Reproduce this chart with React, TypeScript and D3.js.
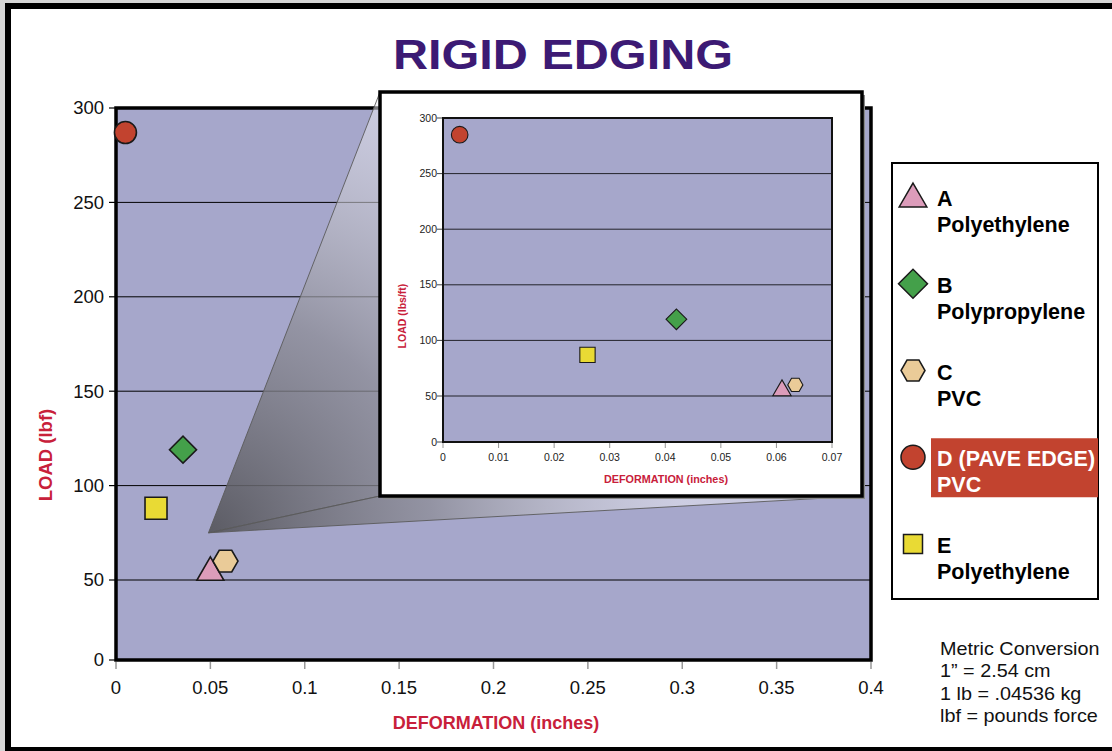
import React from 'react';
import * as d3 from 'd3';

// materials tested, in legend order
const materialKeys = ['A', 'B', 'C', 'D', 'E'];
const materialTitles = ['A', 'B', 'C', 'D (PAVE EDGE)', 'E'];
const materialNames = ['Polyethylene', 'Polypropylene', 'PVC', 'PVC', 'Polyethylene'];
const materialColors = ['#dc9cba', '#44a04a', '#eacb98', '#c2432f', '#e9da34'];

// big chart (lbf vs inches)
const mainDeformation = [0.05, 0.0355, 0.058, 0.005, 0.0212];
const mainLoad = [54, 119, 60, 287, 88];

// inset chart (lbs/ft vs inches)
const insetDeformation = [0.061, 0.042, 0.0634, 0.003, 0.026];
const insetLoad = [55, 119, 60, 285, 87];

const loadTicks = [0, 50, 100, 150, 200, 250, 300];
const mainDefTicks = [0, 0.05, 0.1, 0.15, 0.2, 0.25, 0.3, 0.35, 0.4];
const insetDefTicks = [0, 0.01, 0.02, 0.03, 0.04, 0.05, 0.06, 0.07];

const metricNotes = ['Metric Conversion', '1\u201d = 2.54 cm', '1 lb = .04536 kg', 'lbf = pounds force'];

const FONT = '"Liberation Sans", Arial, Helvetica, sans-serif';
const RED_LABEL = '#c8203a';

const fmt = (d: number) => String(+d.toFixed(2));

// marker shapes, sized per context
type Sizes = { tri: number; dia: number; hex: number; circ: number; sq: number };
const mainSizes: Sizes = { tri: 316, dia: 365, hex: 12.5, circ: 380, sq: 484 };
const insetSizes: Sizes = { tri: 145, dia: 214, hex: 7.6, circ: 216, sq: 234 };
const legendSizes: Sizes = { tri: 332, dia: 420, hex: 12, circ: 452, sq: 361 };

function markerPath(key: string, s: Sizes): string {
  if (key === 'A') return d3.symbol(d3.symbolTriangle, s.tri)() as string;
  if (key === 'B') return d3.symbol(d3.symbolSquare, s.dia)() as string;
  if (key === 'C') {
    const pts: [number, number][] = d3.range(6).map(i => {
      const a = (Math.PI / 3) * i;
      return [s.hex * Math.cos(a), s.hex * Math.sin(a)];
    });
    return (d3.line()(pts) as string) + 'Z';
  }
  if (key === 'D') return d3.symbol(d3.symbolCircle, s.circ)() as string;
  return d3.symbol(d3.symbolSquare, s.sq)() as string;
}

function Marker({ k, i, x, y, s, sw }: { k: string; i: number; x: number; y: number; s: Sizes; sw: number }) {
  const rot = k === 'B' ? ' rotate(45)' : '';
  return (
    <path
      d={markerPath(k, s)}
      transform={`translate(${x},${y})${rot}`}
      fill={materialColors[i]}
      stroke="#1a1a1a"
      strokeWidth={sw}
    />
  );
}

export default function App() {
  const W = 1112, H = 751;

  const mx = d3.scaleLinear().domain([0, 0.4]).range([116, 871]);
  const my = d3.scaleLinear().domain([0, 50, 300]).range([660, 580, 108]);

  const ix = d3.scaleLinear().domain([0, 0.07]).range([443, 832]);
  const iy = d3.scaleLinear().domain([0, 50, 300]).range([442, 396, 118]);

  // inset frame
  const box = { x: 380, y: 92, w: 482, h: 404 };
  const apex: [number, number] = [mx(0.049), my(75)];
  const tl: [number, number] = [box.x, box.y];
  const bl: [number, number] = [box.x, box.y + box.h];
  const br: [number, number] = [box.x + box.w, box.y + box.h];
  const poly = d3.line();

  const legendY = d3.scalePoint<string>().domain(materialKeys).range([197, 544]);

  return (
    <svg width={W} height={H} style={{ position: 'absolute', left: 0, top: 0, display: 'block' }} fontFamily={FONT}>
      <defs>
        <radialGradient id="zoomShade" gradientUnits="userSpaceOnUse" cx={apex[0]} cy={apex[1]} r={560}>
          <stop offset="0" stopColor="#55555b" stopOpacity={0.92} />
          <stop offset="0.4" stopColor="#8d8d96" stopOpacity={0.75} />
          <stop offset="0.85" stopColor="#f4f4fa" stopOpacity={0.5} />
          <stop offset="1" stopColor="#f4f4fa" stopOpacity={0.45} />
        </radialGradient>
      </defs>

      <rect x={0} y={0} width={W} height={H} fill="#d6d6d6" />
      <rect x={8} y={6} width={1120} height={744} fill="#fff" stroke="#000" strokeWidth={6} />

      <text x={563} y={69} textAnchor="middle" fontSize={43} fontWeight="bold" fill="#3c1a74"
        textLength={340} lengthAdjust="spacingAndGlyphs">RIGID EDGING</text>

      {/* main plot */}
      <rect x={mx(0)} y={my(300)} width={mx(0.4) - mx(0)} height={my(0) - my(300)} fill="#a6a7cb" />
      {loadTicks.filter(t => t > 0 && t < 300).map(t => (
        <line key={'g' + t} x1={mx(0)} x2={mx(0.4)} y1={my(t)} y2={my(t)} stroke="#000" strokeWidth={1} />
      ))}
      <rect x={mx(0)} y={my(300)} width={mx(0.4) - mx(0)} height={my(0) - my(300)} fill="none" stroke="#000" strokeWidth={3.5} />
      {loadTicks.map(t => (
        <g key={'yt' + t}>
          <line x1={mx(0) - 7} x2={mx(0)} y1={my(t)} y2={my(t)} stroke="#000" strokeWidth={1.2} />
          <text x={104} y={my(t)} dy="0.35em" textAnchor="end" fontSize={18.5} fill="#111">{t}</text>
        </g>
      ))}
      {mainDefTicks.map(t => (
        <g key={'xt' + t}>
          <line x1={mx(t)} x2={mx(t)} y1={my(0) + 2} y2={my(0) + 9} stroke="#999" strokeWidth={1.5} />
          <text x={mx(t)} y={694} textAnchor="middle" fontSize={18.5} fill="#111">{fmt(t)}</text>
        </g>
      ))}
      <text x={496} y={729} textAnchor="middle" fontSize={18} fontWeight="bold" fill={RED_LABEL}>DEFORMATION (inches)</text>
      <text transform="translate(46,455) rotate(-90)" textAnchor="middle" dy="0.35em" fontSize={18.5} fontWeight="bold" fill={RED_LABEL}>LOAD (lbf)</text>

      {materialKeys.map((k, i) => (
        <Marker key={'m' + k} k={k} i={i} x={mx(mainDeformation[i])} y={my(mainLoad[i])} s={mainSizes} sw={1.6} />
      ))}

      {/* zoom projection */}
      <path d={poly([apex, tl, bl]) + 'Z'} fill="url(#zoomShade)" stroke="#5a5a5a" strokeWidth={0.9} />
      <path d={poly([apex, bl, br]) + 'Z'} fill="url(#zoomShade)" stroke="#5a5a5a" strokeWidth={0.9} />

      {/* inset */}
      <rect x={box.x + 3} y={box.y + 3} width={box.w} height={box.h} fill="#8a8a8a" />
      <rect x={box.x} y={box.y} width={box.w} height={box.h} fill="#fff" stroke="#000" strokeWidth={3.5} />
      <rect x={ix(0)} y={iy(300)} width={ix(0.07) - ix(0)} height={iy(0) - iy(300)} fill="#a6a7cb" />
      {loadTicks.filter(t => t > 0 && t < 300).map(t => (
        <line key={'ig' + t} x1={ix(0)} x2={ix(0.07)} y1={iy(t)} y2={iy(t)} stroke="#000" strokeWidth={0.8} />
      ))}
      <rect x={ix(0)} y={iy(300)} width={ix(0.07) - ix(0)} height={iy(0) - iy(300)} fill="none" stroke="#111" strokeWidth={2} />
      {loadTicks.map(t => (
        <g key={'iyt' + t}>
          <line x1={ix(0) - 6} x2={ix(0)} y1={iy(t)} y2={iy(t)} stroke="#111" strokeWidth={0.8} />
          <text x={437} y={iy(t)} dy="0.35em" textAnchor="end" fontSize={10.5} fill="#222">{t}</text>
        </g>
      ))}
      {insetDefTicks.map(t => (
        <g key={'ixt' + t}>
          <line x1={ix(t)} x2={ix(t)} y1={iy(0) + 1} y2={iy(0) + 6} stroke="#888" strokeWidth={0.9} />
          <text x={ix(t)} y={460.5} textAnchor="middle" fontSize={10.5} fill="#222">{fmt(t)}</text>
        </g>
      ))}
      <text x={666} y={483} textAnchor="middle" fontSize={10.8} fontWeight="bold" fill={RED_LABEL}>DEFORMATION (inches)</text>
      <text transform="translate(402,316) rotate(-90)" textAnchor="middle" dy="0.35em" fontSize={10.5} fontWeight="bold" fill={RED_LABEL}>LOAD (lbs/ft)</text>
      {materialKeys.map((k, i) => (
        <Marker key={'im' + k} k={k} i={i} x={ix(insetDeformation[i])} y={iy(insetLoad[i])} s={insetSizes} sw={1.1} />
      ))}

      {/* legend */}
      <rect x={892} y={163} width={206} height={436} fill="#fff" stroke="#000" strokeWidth={2} />
      {materialKeys.map((k, i) => {
        const y = legendY(k) as number;
        const hl = k === 'D';
        return (
          <g key={'lg' + k}>
            {hl && <rect x={931} y={y - 19} width={167} height={59} fill={materialColors[i]} />}
            <Marker k={k} i={i} x={913} y={k === 'A' ? y + 2 : y} s={legendSizes} sw={1.5} />
            <text x={937} y={y + 9} fontSize={21.5} fontWeight="bold" fill={hl ? '#fff' : '#000'}>{materialTitles[i]}</text>
            <text x={937} y={y + 35} fontSize={21.5} fontWeight="bold" fill={hl ? '#fff' : '#000'}>{materialNames[i]}</text>
          </g>
        );
      })}

      {metricNotes.map((s, i) => (
        <text key={'mc' + i} transform={`translate(940,${655 + i * 22.3}) scale(1.1,1)`} fontSize={18} fill="#111">{s}</text>
      ))}
    </svg>
  );
}
